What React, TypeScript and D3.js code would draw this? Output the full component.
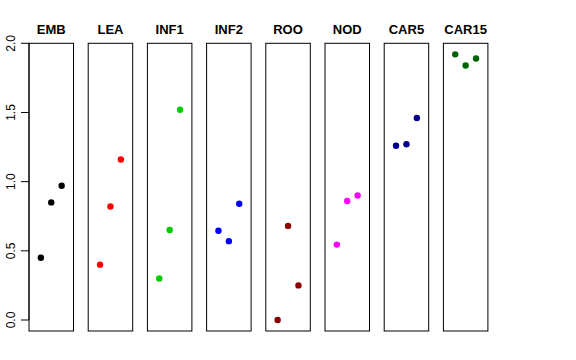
import React from "react";
import * as d3 from "d3";

const categories = ["EMB", "LEA", "INF1", "INF2", "ROO", "NOD", "CAR5", "CAR15"];
const colors = ["#000000", "#FF0000", "#00CD00", "#0000FF", "#8B0000", "#FF00FF", "#00008B", "#006400"];
const values: number[][] = [
  [0.45, 0.85, 0.97],
  [0.40, 0.82, 1.16],
  [0.30, 0.65, 1.52],
  [0.645, 0.57, 0.84],
  [0.0, 0.68, 0.25],
  [0.545, 0.86, 0.90],
  [1.26, 1.27, 1.46],
  [1.92, 1.84, 1.89],
];
const yTicks = [0, 0.5, 1.0, 1.5, 2.0];

const W = 576, H = 360;
const panelW = 44.5;
const firstLeft = 29;
const step = 59.2;
const top = 43.3, bottom = 331;

export default function App() {
  const y = d3.scaleLinear().domain([0, 2]).range([320, 43.3]);
  const jitter = d3.scalePoint<number>().domain([0, 1, 2]).range([-10.4, 10.4]);
  const fmt = d3.format(".1f");
  return (
    <svg width={W} height={H} style={{ position: "absolute", left: 0, top: 0 }} fontFamily="'Liberation Sans', Arial, sans-serif">
      <rect x={0} y={0} width={W} height={H} fill="#fff" />
      {categories.map((c, i) => {
        const left = firstLeft + i * step;
        const cx = left + panelW / 2;
        return (
          <g key={c}>
            <rect x={left} y={top} width={panelW} height={bottom - top} fill="none" stroke="#000" strokeWidth={1} />
            <text x={cx} y={34} textAnchor="middle" fontWeight="bold" fontSize={13}>{c}</text>
            {values[i].map((v, j) => (
              <circle key={j} cx={cx + (jitter(j) as number)} cy={y(v)} r={3.2} fill={colors[i]} />
            ))}
          </g>
        );
      })}
      <line x1={firstLeft} x2={firstLeft} y1={y(0)} y2={y(2)} stroke="#000" />
      {yTicks.map((t) => (
        <g key={t}>
          <line x1={21} x2={firstLeft} y1={y(t)} y2={y(t)} stroke="#000" />
          <text transform={`translate(15,${y(t)}) rotate(-90)`} textAnchor="middle" fontSize={12}>{fmt(t)}</text>
        </g>
      ))}
    </svg>
  );
}
